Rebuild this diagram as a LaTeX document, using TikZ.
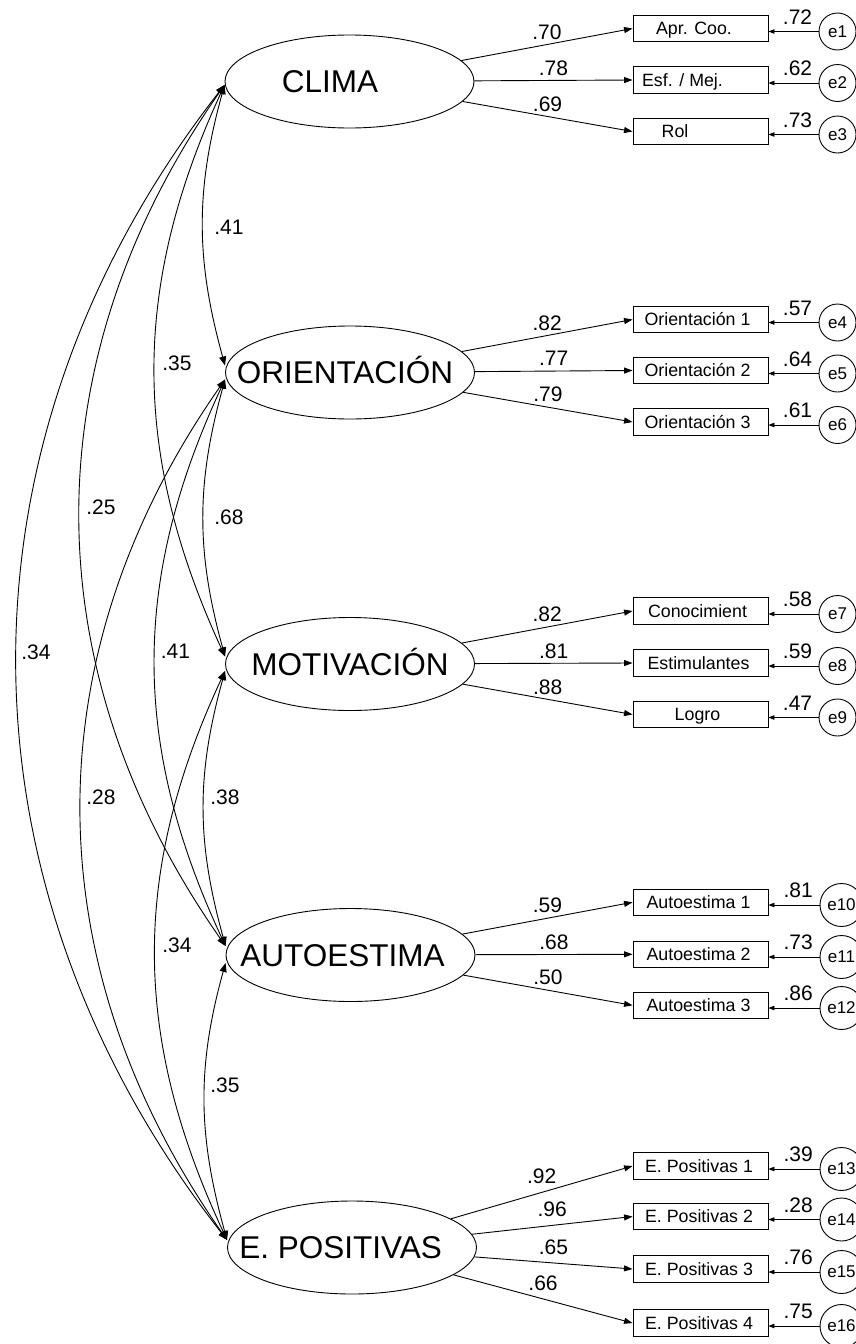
\documentclass[tikz,border=0pt]{standalone}
\usepackage{fontspec}
\setmainfont{Liberation Sans}
\usetikzlibrary{arrows.meta,shapes.geometric,calc}

\tikzset{
  latent/.style={ellipse, draw, line width=0.9pt, minimum width=249pt, minimum height=93pt,
    inner sep=0pt, text height=22.5pt, text depth=0pt, font=\fontsize{31.5}{32}\selectfont},
  obs/.style={rectangle, draw, line width=0.9pt, minimum width=135pt, minimum height=26.5pt,
    inner sep=0pt, text height=12.7pt, text depth=0pt, font=\fontsize{17.8}{18}\selectfont},
  err/.style={circle, draw, line width=0.9pt, minimum size=37pt, inner sep=0pt,
    font=\fontsize{17}{17}\selectfont},
  errw/.style={err, minimum size=43pt},
  num/.style={inner sep=0pt, font=\fontsize{21}{21}\selectfont},
  ld/.style={num, pos=.5, yshift=12.5pt},
  ldw/.style={num, pos=.5, yshift=16pt},
  rv/.style={num, pos=.42, yshift=14.5pt},
  load/.style={line width=0.9pt, -{Triangle[length=8.5pt,width=6pt]}},
  res/.style={line width=0.9pt, -{Triangle[length=6pt,width=4.5pt]}},
  cov/.style={line width=0.9pt, {Triangle[length=9pt,width=7pt]}-{Triangle[length=9pt,width=7pt]}},
}
\newcommand\shiftedtext[2]{\makebox[0pt]{\hspace*{#1}#2}}

\begin{document}
\begin{tikzpicture}[x=1pt,y=-1pt]
\useasboundingbox (0,0) rectangle (856,1344);

% latent factors
\node[latent] (cli) at (349.5,81.5)  {\shiftedtext{-39pt}{CLIMA}};
\node[latent] (ori) at (350,372.5)   {\shiftedtext{-10pt}{ORIENTACIÓN}};
\node[latent] (mot) at (350,664)     {\shiftedtext{0pt}{MOTIVACIÓN}};
\node[latent] (aut) at (350.5,955)   {\shiftedtext{-16pt}{AUTOESTIMA}};
\node[latent] (epo) at (352,1247.5)  {\shiftedtext{-23pt}{E. POSITIVAS}};

% observed indicators
\node[obs] (x1)  at (700.5,28.5)  {\shiftedtext{-13pt}{Apr. Coo.}};
\node[obs] (x2)  at (700.5,80)    {\shiftedtext{-36pt}{Esf. / Mej.}};
\node[obs] (x3)  at (700.5,131.5) {\shiftedtext{-51pt}{Rol}};
\node[obs] (x4)  at (700.5,319.5) {\shiftedtext{-6pt}{Orientación 1}};
\node[obs] (x5)  at (700.5,370.5) {\shiftedtext{-6pt}{Orientación 2}};
\node[obs] (x6)  at (700.5,422)   {\shiftedtext{-6pt}{Orientación 3}};
\node[obs] (x7)  at (700.5,611)   {\shiftedtext{-6pt}{Conocimient}};
\node[obs] (x8)  at (700.5,663)   {\shiftedtext{-4pt}{Estimulantes}};
\node[obs] (x9)  at (700.5,714.5) {\shiftedtext{-6pt}{Logro}};
\node[obs] (x10) at (700.5,902.3) {\shiftedtext{-4pt}{Autoestima 1}};
\node[obs] (x11) at (700.5,954.3) {\shiftedtext{-4pt}{Autoestima 2}};
\node[obs] (x12) at (700.5,1005.3){\shiftedtext{-4pt}{Autoestima 3}};
\node[obs] (x13) at (700.5,1166)  {\shiftedtext{-3pt}{E. Positivas 1}};
\node[obs] (x14) at (700.5,1216.5){\shiftedtext{-3pt}{E. Positivas 2}};
\node[obs] (x15) at (700.5,1269)  {\shiftedtext{-3pt}{E. Positivas 3}};
\node[obs] (x16) at (700.5,1323)  {\shiftedtext{-3pt}{E. Positivas 4}};

% error terms
\foreach \i/\y in {1/31.5,2/83,3/134.5,4/322.5,5/373.5,6/425,7/614,8/666,9/717.5}
  \node[err] (e\i) at (837.5,\y) {e\i};
\foreach \i/\y in {10/905,11/957,12/1008,13/1169,14/1219.5,15/1272,16/1326}
  \node[errw] (e\i) at (841.5,\y) {e\i};

% factor loadings
\draw[load] (cli) -- node[ld] {.70} (x1.west);
\draw[load] (cli) -- node[ld] {.78} (x2.west);
\draw[load] (cli) -- node[ld] {.69} (x3.west);
\draw[load] (ori) -- node[ld] {.82} (x4.west);
\draw[load] (ori) -- node[ld] {.77} (x5.west);
\draw[load] (ori) -- node[ld] {.79} (x6.west);
\draw[load] (mot) -- node[ld] {.82} (x7.west);
\draw[load] (mot) -- node[ld] {.81} (x8.west);
\draw[load] (mot) -- node[ld] {.88} (x9.west);
\draw[load] (aut) -- node[ld] {.59} (x10.west);
\draw[load] (aut) -- node[ld] {.68} (x11.west);
\draw[load] (aut) -- node[ld] {.50} (x12.west);
\draw[load] (epo) -- node[ldw] {.92} (x13.west);
\draw[load] (epo) -- node[ldw] {.96} (x14.west);
\draw[load] (epo) -- node[ldw] {.65} (x15.west);
\draw[load] (epo) -- node[ldw] {.66} (x16.west);

% residual paths with squared multiple correlations
\foreach \i/\v in {1/.72,2/.62,3/.73,4/.57,5/.64,6/.61,7/.58,8/.59,9/.47,
                   10/.81,11/.73,12/.86,13/.39,14/.28,15/.76,16/.75}
  \draw[res] (e\i) -- node[rv] {\v} (e\i -| x\i.east);

% attachment points of the covariances
\coordinate (cliP) at ([yshift=-3.5pt]cli.west);
\coordinate (oriT) at ([yshift=7pt]ori.west);
\coordinate (oriB) at ([yshift=-7pt]ori.west);
\coordinate (motT) at ([yshift=7.5pt]mot.west);
\coordinate (motB) at ([yshift=-7pt]mot.west);
\coordinate (autT) at ([yshift=9pt]aut.west);
\coordinate (autB) at ([yshift=-8pt]aut.west);
\coordinate (epoP) at ([yshift=7.5pt]epo.west);

% covariances between factors (arcs bulging to the left)
\draw[cov] (cliP) .. controls ($(cliP)+(-29.3,105.6)$) and ($(oriT)+(-29.3,-105.6)$) .. (oriT);
\draw[cov] (cliP) .. controls ($(cliP)+(-93.3,202.8)$) and ($(motT)+(-93.3,-202.8)$) .. (motT);
\draw[cov] (cliP) .. controls ($(cliP)+(-193.4,276.1)$) and ($(autT)+(-193.4,-276.1)$) .. (autT);
\draw[cov] (cliP) .. controls ($(cliP)+(-278.4,356.3)$) and ($(epoP)+(-278.4,-356.3)$) .. (epoP);
\draw[cov] (oriB) .. controls ($(oriB)+(-28.9,104.3)$) and ($(motT)+(-28.9,-104.3)$) .. (motT);
\draw[cov] (oriB) .. controls ($(oriB)+(-93.8,201.2)$) and ($(autT)+(-93.8,-201.2)$) .. (autT);
\draw[cov] (oriB) .. controls ($(oriB)+(-193.2,276)$) and ($(epoP)+(-193.2,-276)$) .. (epoP);
\draw[cov] (motB) .. controls ($(motB)+(-28.9,104.3)$) and ($(autT)+(-28.9,-104.3)$) .. (autT);
\draw[cov] (motB) .. controls ($(motB)+(-94.3,202.3)$) and ($(epoP)+(-94.3,-202.3)$) .. (epoP);
\draw[cov] (autB) .. controls ($(autB)+(-29,104.7)$) and ($(epoP)+(-29,-104.7)$) .. (epoP);

% correlation values
\node[num] (r12) at (229,227) {.41};
\node[num] (r13) at (177,363) {.35};
\node[num] (r14) at (101,507) {.25};
\node[num] (r15) at (36,652)  {.34};
\node[num] (r23) at (229,517) {.68};
\node[num] (r24) at (175.5,651) {.41};
\node[num] (r25) at (101,797) {.28};
\node[num] (r34) at (225,797) {.38};
\node[num] (r35) at (177,945) {.34};
\node[num] (r45) at (225,1085) {.35};
\end{tikzpicture}
\end{document}
